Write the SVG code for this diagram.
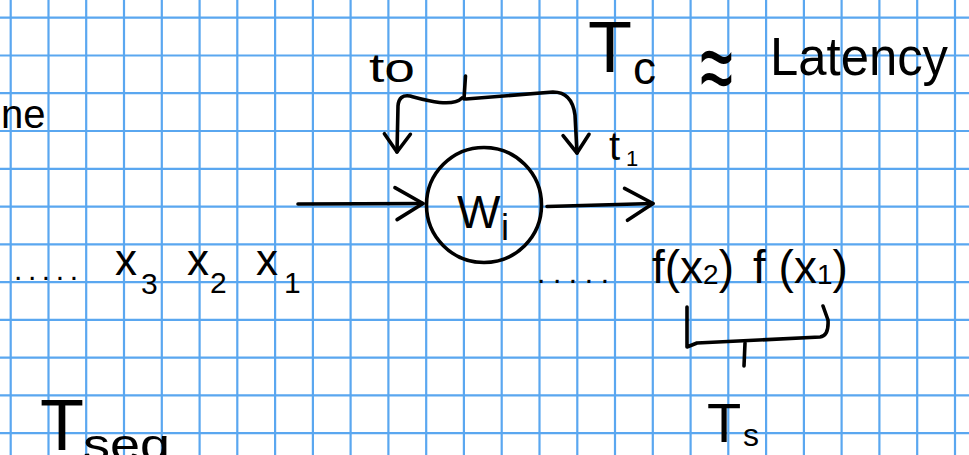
<svg xmlns="http://www.w3.org/2000/svg" width="969" height="455" viewBox="0 0 969 455">
<style>
.grid{stroke:#5aa7f0;stroke-width:2.2;fill:none}
.ink{stroke:#000;stroke-width:3.6;fill:none;stroke-linecap:round;stroke-linejoin:round}
.hw{font-family:"Liberation Sans",Arial,sans-serif;fill:#000}
</style>
<defs>
<marker id="arrowBig" viewBox="0 0 32 36" refX="30" refY="18" markerWidth="32" markerHeight="36" orient="auto" markerUnits="userSpaceOnUse" overflow="visible">
<path d="M2,2 L30,18 L4,34" stroke="#000" stroke-width="3.6" fill="none" stroke-linecap="round" stroke-linejoin="round"/>
</marker>
<marker id="arrowSmall" viewBox="0 0 22 30" refX="20" refY="15" markerWidth="22" markerHeight="30" orient="auto" markerUnits="userSpaceOnUse" overflow="visible">
<path d="M2,2 L20,15 L2,28" stroke="#000" stroke-width="3.6" fill="none" stroke-linecap="round" stroke-linejoin="round"/>
</marker>
</defs>
<rect x="0" y="0" width="969" height="455" fill="#fff"/>
<g id="grid" class="grid">
<path d="M10.7,0V455M48.5,0V455M86.2,0V455M124,0V455M161.8,0V455M199.6,0V455M237.3,0V455M275.1,0V455M312.9,0V455M350.6,0V455M388.4,0V455M426.2,0V455M463.9,0V455M501.7,0V455M539.5,0V455M577.3,0V455M615,0V455M652.8,0V455M690.6,0V455M728.3,0V455M766.1,0V455M803.9,0V455M841.6,0V455M879.4,0V455M917.2,0V455M955,0V455"/>
<path d="M0,17.7H969M0,55.5H969M0,93.2H969M0,131H969M0,168.8H969M0,206.6H969M0,244.3H969M0,282.1H969M0,319.9H969M0,357.6H969M0,395.4H969M0,433.2H969"/>
</g>
<g id="connectors" class="ink">
<path d="M298,204 L423,203.5" marker-end="url(#arrowBig)"/>
<path d="M547,206.5 L653,203.5" marker-end="url(#arrowBig)"/>
<path d="M462,98 C452,108 425,100 410,96 Q399,94 398,106 L397,152" marker-end="url(#arrowSmall)"/>
<path d="M466,99 L553,92 Q572,92 575,115 L577,153" marker-end="url(#arrowSmall)"/>
<path d="M464,99 L465.5,76"/>
<path d="M687,307 L687,347 L697,343 L820,337 Q829,336 828,320 L823,306"/>
<path d="M744,366 L745,343"/>
</g>
<g id="node-wi">
<circle cx="484" cy="205" r="57.5" class="ink"/>
<text class="hw" x="457" y="228" font-size="46">W</text>
<text class="hw" x="501" y="240" font-size="36">i</text>
</g>
<g id="label-to"><text class="hw" x="369" y="82" font-size="40" textLength="46" lengthAdjust="spacingAndGlyphs">to</text></g>
<g id="label-t1"><text class="hw" x="609" y="160" font-size="40">t</text><text class="hw" x="626" y="166" font-size="22">1</text></g>
<g id="label-tc">
<text class="hw" x="588" y="72" font-size="72">T</text>
<text class="hw" x="633" y="84" font-size="46">c</text>
<text class="hw" font-size="60" transform="translate(700,104) scale(1,1.8)">≈</text>
<text class="hw" x="770" y="75" font-size="54" textLength="178" lengthAdjust="spacingAndGlyphs">Latency</text>
</g>
<g id="label-ne"><text class="hw" x="1" y="128" font-size="40">ne</text></g>
<g id="label-inputs">
<text class="hw" x="14" y="280" font-size="30" textLength="64" lengthAdjust="spacing">.....</text>
<text class="hw" x="115" y="275" font-size="44">x</text><text class="hw" x="141" y="294" font-size="30">3</text>
<text class="hw" x="187" y="275" font-size="44">x</text><text class="hw" x="210" y="293" font-size="30">2</text>
<text class="hw" x="256" y="275" font-size="44">x</text><text class="hw" x="284" y="293" font-size="30">1</text>
</g>
<g id="label-outputs">
<text class="hw" x="537" y="283" font-size="30" textLength="72" lengthAdjust="spacing">.....</text>
<text class="hw" x="652" y="283" font-size="46">f(x<tspan font-size="28" dy="1">2</tspan><tspan font-size="46" dy="-1">)</tspan></text>
<text class="hw" x="753" y="283" font-size="46">f (x<tspan font-size="28" dy="1">1</tspan><tspan font-size="46" dy="-1">)</tspan></text>
</g>
<g id="label-ts"><text class="hw" x="707" y="442" font-size="56">T</text><text class="hw" x="743" y="446" font-size="32">s</text></g>
<g id="label-tseq"><text class="hw" x="40" y="450" font-size="72">T</text><text class="hw" x="83" y="460" font-size="44" textLength="87" lengthAdjust="spacingAndGlyphs">seq</text></g>
</svg>
